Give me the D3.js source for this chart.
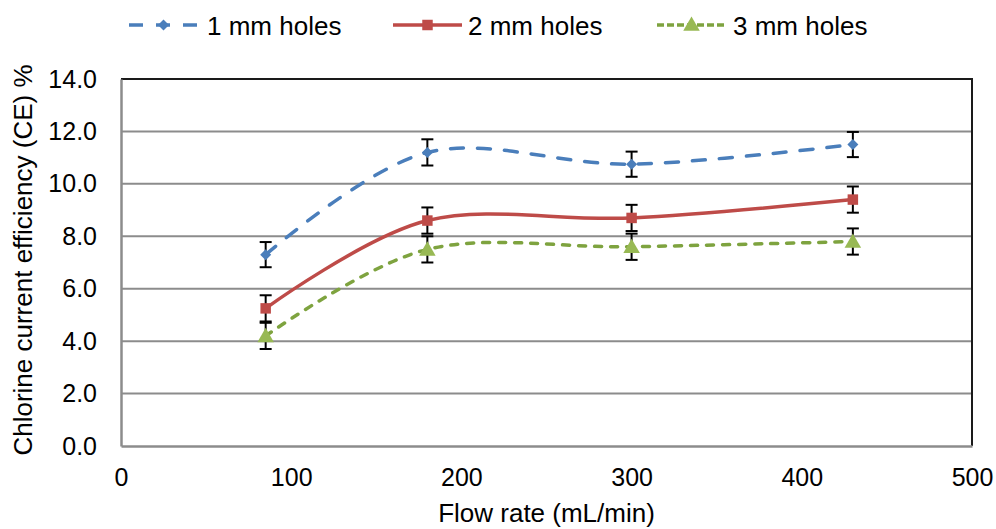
<!DOCTYPE html>
<html>
<head>
<meta charset="utf-8">
<script src="https://cdn.jsdelivr.net/npm/d3@7"></script>
<style>
  html, body { margin: 0; padding: 0; background: #fff; }
  svg { display: block; font-family: "Liberation Sans", Arial, sans-serif; }
</style>
</head>
<body>
<svg id="chart" width="996" height="529"></svg>
<script>
// Flow rates (mL/min) shared by every series
const flowRates = [85, 180, 300, 430];

// Chlorine current efficiency (%) per hole diameter
const ce1mm = [7.3, 11.2, 10.75, 11.5];
const ce2mm = [5.25, 8.6, 8.7, 9.4];
const ce3mm = [4.2, 7.5, 7.6, 7.8];

// Error bar half-widths (%)
const err1mm = [0.48, 0.5, 0.48, 0.48];
const err2mm = [0.5, 0.5, 0.5, 0.5];
const err3mm = [0.5, 0.5, 0.5, 0.5];

const seriesNames = ["1 mm holes", "2 mm holes", "3 mm holes"];
const xTicks = [0, 100, 200, 300, 400, 500];
const yTicks = [0, 2, 4, 6, 8, 10, 12, 14];

const series = [
  { name: seriesNames[0], values: ce1mm, errs: err1mm, color: "#4A7EBB", dash: "13,14", legendDash: "14,13", marker: "diamond" },
  { name: seriesNames[1], values: ce2mm, errs: err2mm, color: "#BE4B48", dash: null, legendDash: null, marker: "square" },
  { name: seriesNames[2], values: ce3mm, errs: err3mm, color: "#7EA33F", dash: "7,9", legendDash: "7,3", marker: "triangle", markerColor: "#98B954" }
];

const svg = d3.select("#chart");
const plot = { left: 121, right: 972, top: 79, bottom: 446 };

const x = d3.scaleLinear().domain([0, 500]).range([plot.left, plot.right]);
const y = d3.scaleLinear().domain([0, 14]).range([plot.bottom, plot.top]);

// Horizontal gridlines
svg.append("g")
  .selectAll("line")
  .data(yTicks.filter(t => t > 0 && t < 14))
  .join("line")
  .attr("x1", plot.left).attr("x2", plot.right)
  .attr("y1", d => y(d)).attr("y2", d => y(d))
  .attr("stroke", "#8c8c8c").attr("stroke-width", 2);

// Plot-area border (top and right)
svg.append("path")
  .attr("d", `M${plot.left},${plot.top}H${plot.right}V${plot.bottom}`)
  .attr("fill", "none").attr("stroke", "#1a1a1a").attr("stroke-width", 2);

// Axes
const yAxis = svg.append("g")
  .attr("transform", `translate(${plot.left},0)`)
  .call(d3.axisLeft(y).tickValues(yTicks).tickFormat(d3.format(".1f")).tickSize(0).tickPadding(24));
const xAxis = svg.append("g")
  .attr("transform", `translate(0,${plot.bottom})`)
  .call(d3.axisBottom(x).tickValues(xTicks).tickSize(0).tickPadding(22));

[xAxis, yAxis].forEach(g => {
  g.select(".domain").attr("stroke", "#8c8c8c").attr("stroke-width", 2.5);
  g.selectAll("text").attr("font-size", 25).attr("fill", "#000")
    .attr("font-family", "'Liberation Sans', Arial, sans-serif");
});

// Axis titles
svg.append("text")
  .attr("x", x(250)).attr("y", 522)
  .attr("text-anchor", "middle").attr("font-size", 26).attr("fill", "#000")
  .text("Flow rate (mL/min)");
svg.append("text")
  .attr("transform", `translate(32,260) rotate(-90)`)
  .attr("text-anchor", "middle").attr("font-size", 26).attr("fill", "#000")
  .text("Chlorine current efficiency (CE) %");

// Marker shapes
function markerPath(kind) {
  if (kind === "diamond") {
    const r = 5.5;
    return `M0,${-r}L${r},0L0,${r}L${-r},0Z`;
  }
  if (kind === "square") return d3.symbol(d3.symbolSquare, 110)();
  return d3.symbol(d3.symbolTriangle, 118)();
}

const line = d3.line()
  .x((d, i) => x(flowRates[i]))
  .y(d => y(d))
  .curve(d3.curveCardinal.tension(0));

series.forEach(s => {
  const g = svg.append("g");
  g.append("path")
    .attr("d", line(s.values))
    .attr("fill", "none")
    .attr("stroke", s.color)
    .attr("stroke-width", 3.5)
    .attr("stroke-dasharray", s.dash)
    .attr("stroke-linecap", s.dash ? "round" : "butt");

  // Error bars
  const eb = g.selectAll("g.err").data(s.values).join("g").attr("class", "err");
  eb.append("line")
    .attr("x1", (d, i) => x(flowRates[i])).attr("x2", (d, i) => x(flowRates[i]))
    .attr("y1", (d, i) => y(d + s.errs[i])).attr("y2", (d, i) => y(d - s.errs[i]))
    .attr("stroke", "#000").attr("stroke-width", 2);
  [1, -1].forEach(sign => {
    eb.append("line")
      .attr("x1", (d, i) => x(flowRates[i]) - 6).attr("x2", (d, i) => x(flowRates[i]) + 6)
      .attr("y1", (d, i) => y(d + sign * s.errs[i])).attr("y2", (d, i) => y(d + sign * s.errs[i]))
      .attr("stroke", "#000").attr("stroke-width", 2);
  });

  g.selectAll("path.mk").data(s.values).join("path").attr("class", "mk")
    .attr("d", markerPath(s.marker))
    .attr("transform", (d, i) => `translate(${x(flowRates[i])},${y(d) + (s.marker === "triangle" ? 1.5 : 0)})`)
    .attr("fill", s.markerColor || s.color);
});

// Legend
const legendItems = [
  { lx: 129, tx: 207 },
  { lx: 393, tx: 468 },
  { lx: 657, tx: 733 }
];
series.forEach((s, i) => {
  const L = legendItems[i];
  const g = svg.append("g").attr("transform", `translate(0,25)`);
  g.append("line")
    .attr("x1", L.lx).attr("x2", L.lx + 69).attr("y1", 0).attr("y2", 0)
    .attr("stroke", s.color).attr("stroke-width", 3.5)
    .attr("stroke-dasharray", s.legendDash)
    .attr("stroke-linecap", "butt");
  g.append("path")
    .attr("d", markerPath(s.marker))
    .attr("transform", `translate(${L.lx + 34.5},${s.marker === "triangle" ? 1 : 0})`)
    .attr("fill", s.markerColor || s.color);
  g.append("text")
    .attr("x", L.tx).attr("y", 10)
    .attr("font-size", 26).attr("fill", "#000")
    .text(s.name);
});
</script>
</body>
</html>
